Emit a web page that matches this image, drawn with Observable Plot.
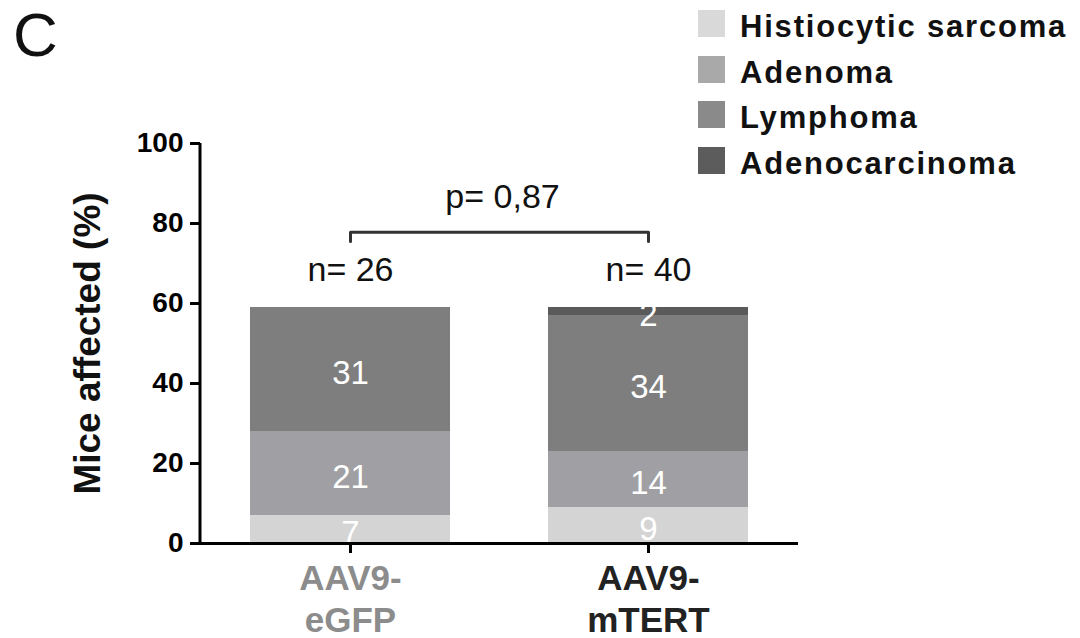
<!DOCTYPE html>
<html>
<head>
<meta charset="utf-8">
<script src="https://cdn.jsdelivr.net/npm/d3@7"></script>
<script src="https://cdn.jsdelivr.net/npm/@observablehq/plot@0.6"></script>
<style>
  html, body { margin: 0; padding: 0; background: #fff; }
  #wrap { position: relative; width: 1080px; height: 638px; overflow: hidden; font-family: "Liberation Sans", Arial, Helvetica, sans-serif; }
  #panel { position: absolute; left: 13px; top: 0px; font-size: 62px; line-height: 70px; color: #111; }
  #legend { position: absolute; left: 698px; top: 10px; }
  .row { position: absolute; left: 0; height: 27px; white-space: nowrap; }
  .sw { position: absolute; left: 0; top: 0; width: 27px; height: 27px; }
  .lt { position: absolute; left: 42px; top: 3px; font-size: 31px; line-height: 27px; font-weight: bold; letter-spacing: 1.8px; color: #111; }
  #chart { position: absolute; left: 0; top: 0; }
</style>
</head>
<body>
<div id="wrap">
  <div id="chart"></div>
  <div id="panel">C</div>
  <div id="legend"></div>
</div>
<script>
// ---- data ----
const groups = ["AAV9-eGFP", "AAV9-mTERT"];
const types = ["Histiocytic sarcoma", "Adenoma", "Lymphoma", "Adenocarcinoma"];
const eGFPValues = [7, 21, 31, 0];
const mTERTValues = [9, 14, 34, 2];
const barColors = ["#d4d4d4", "#a0a0a4", "#7e7e7e", "#5a5a5a"];
const legendColors = ["#d9d9d9", "#a9a9a9", "#8a8a8a", "#5c5c5c"];
const groupLabelColors = ["#8c8c8c", "#222222"];
const nLabels = ["n= 26", "n= 40"];
const pLabel = "p= 0,87";
const yTicks = [0, 20, 40, 60, 80, 100];
const yLabel = "Mice affected (%)";
const nLabelLevel = 68.3;
const pLabelLevel = 86.5;
const bracketTop = 77.8;
const bracketFoot = 75.5;

// ---- table ----
const rows = [];
groups.forEach((g, gi) => {
  const vals = gi === 0 ? eGFPValues : mTERTValues;
  types.forEach((t, ti) => {
    if (vals[ti] > 0) rows.push({group: g, type: t, value: vals[ti]});
  });
});
const nRows = groups.map((g, i) => ({group: g, text: nLabels[i]}));
const bracket = [
  {group: groups[0], y: bracketFoot},
  {group: groups[0], y: bracketTop},
  {group: groups[1], y: bracketTop},
  {group: groups[1], y: bracketFoot}
];

const W = 1080, H = 638;
const mLeft = 200, mRight = 282, mTop = 143, mBottom = 95;

const xAxisOpts = {tickSize: 10, tickPadding: 7, strokeWidth: 3, fontSize: 35, fontWeight: "bold", lineHeight: 1.2, stroke: "#000", tickFormat: d => d.replace("-", "-\n"), label: null};

const plot = Plot.plot({
  width: W,
  height: H,
  marginLeft: mLeft,
  marginRight: mRight,
  marginTop: mTop,
  marginBottom: mBottom,
  style: {fontFamily: "'Liberation Sans', Arial, Helvetica, sans-serif", color: "#000", background: "transparent"},
  x: {domain: groups, paddingInner: 0.328, paddingOuter: 0.167, label: null},
  y: {domain: [0, 100], label: null},
  color: {domain: types, range: barColors},
  marks: [
    Plot.barY(rows, {x: "group", y: "value", fill: "type", z: "type", order: types}),
    Plot.text(rows, Plot.stackY({x: "group", y: "value", z: "type", order: types, text: d => String(d.value), fill: "white", fontSize: 33, dy: 4})),
    Plot.ruleY([0], {stroke: "#000", strokeWidth: 3}),
    Plot.axisY({ticks: yTicks, tickSize: 10, tickPadding: 7, fontSize: 28, fontWeight: "bold", strokeWidth: 3, label: null}),
    Plot.text([yLabel], {frameAnchor: "left", textAnchor: "middle", text: d => d, rotate: -90, dx: -112, fontSize: 37, fontWeight: "bold", fill: "#111"}),
    Plot.axisX({...xAxisOpts, ticks: [groups[0]], fill: groupLabelColors[0]}),
    Plot.axisX({...xAxisOpts, ticks: [groups[1]], fill: groupLabelColors[1]}),
    Plot.text(nRows, {x: "group", y: () => nLabelLevel, text: "text", fontSize: 34, fill: "#111"}),
    Plot.line(bracket, {x: "group", y: "y", stroke: "#333", strokeWidth: 3}),
    Plot.text([pLabel], {x: () => groups[0], y: () => pLabelLevel, text: d => d, fontSize: 34, fill: "#111", dx: 152})
  ]
});

// y axis line along the left edge of the frame
const ys = plot.scale("y");
d3.select(plot).append("line")
  .attr("x1", mLeft).attr("x2", mLeft)
  .attr("y1", ys.apply(0) + 1.5).attr("y2", ys.apply(100))
  .attr("stroke", "#000").attr("stroke-width", 3);

document.getElementById("chart").appendChild(plot);

// legend
const leg = document.getElementById("legend");
types.forEach((t, i) => {
  const row = document.createElement("div");
  row.className = "row";
  row.style.top = (i * 45.5) + "px";
  const sw = document.createElement("div");
  sw.className = "sw";
  sw.style.background = legendColors[i];
  const lt = document.createElement("div");
  lt.className = "lt";
  lt.textContent = t;
  row.appendChild(sw);
  row.appendChild(lt);
  leg.appendChild(row);
});
</script>
</body>
</html>
